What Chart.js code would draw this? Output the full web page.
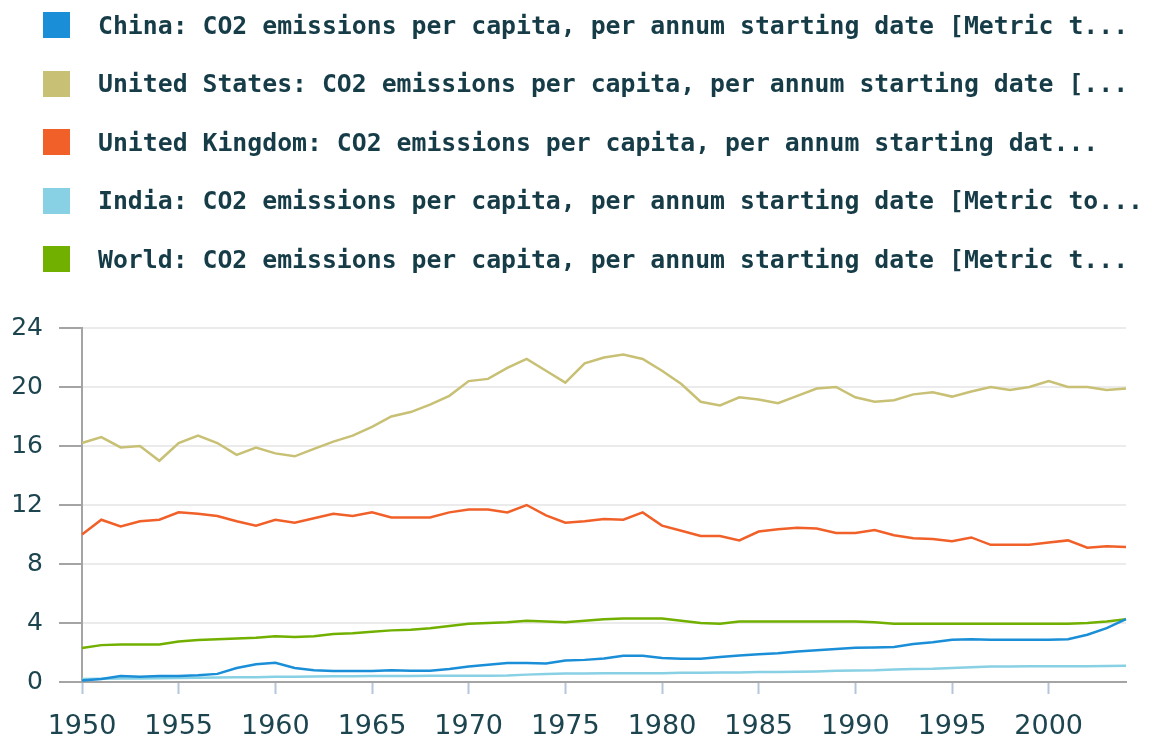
<!DOCTYPE html>
<html>
<head>
<meta charset="utf-8">
<script src="https://cdn.jsdelivr.net/npm/chart.js@4/dist/chart.umd.min.js"></script>
<style>
  html, body { margin: 0; padding: 0; background: #fff; }
  #wrap { position: relative; width: 1149px; height: 736px; overflow: hidden; }
  #chart { position: absolute; left: 0; top: 0; }
  #legend { position: absolute; left: 43px; top: 12px; display: flex; flex-direction: column; gap: 32.5px; }
  .row { display: flex; align-items: center; height: 26px; }
  .box { width: 27px; height: 26px; margin-right: 28px; flex: none; }
  .txt { font: bold 24.8px "DejaVu Sans Mono", monospace; color: #163c48; white-space: nowrap; }
</style>
</head>
<body>
<div id="wrap">
  <canvas id="chart" width="1149" height="736"></canvas>
  <div id="legend"></div>
</div>
<script>
const years = ['1950','1951','1952','1953','1954','1955','1956','1957','1958','1959',
  '1960','1961','1962','1963','1964','1965','1966','1967','1968','1969',
  '1970','1971','1972','1973','1974','1975','1976','1977','1978','1979',
  '1980','1981','1982','1983','1984','1985','1986','1987','1988','1989',
  '1990','1991','1992','1993','1994','1995','1996','1997','1998','1999',
  '2000','2001','2002','2003','2004'];

const seriesNames = [
  'China: CO2 emissions per capita, per annum starting date [Metric t...',
  'United States: CO2 emissions per capita, per annum starting date [...',
  'United Kingdom: CO2 emissions per capita, per annum starting dat...',
  'India: CO2 emissions per capita, per annum starting date [Metric to...',
  'World: CO2 emissions per capita, per annum starting date [Metric t...'
];
const seriesColors = ['#1a8fd8', '#c8c074', '#f06028', '#88d0e4', '#72b000'];

const china = [0.1, 0.2, 0.4, 0.35, 0.4, 0.4, 0.45, 0.55, 0.95, 1.2,
  1.3, 0.95, 0.8, 0.75, 0.75, 0.75, 0.8, 0.77, 0.77, 0.88,
  1.05, 1.17, 1.28, 1.28, 1.25, 1.45, 1.5, 1.6, 1.78, 1.78,
  1.62, 1.58, 1.58, 1.7, 1.8, 1.88, 1.95, 2.07, 2.16, 2.23,
  2.32, 2.34, 2.37, 2.57, 2.7, 2.86, 2.9, 2.86, 2.86, 2.86,
  2.86, 2.9, 3.2, 3.65, 4.26];

const unitedStates = [16.2, 16.6, 15.9, 16.0, 15.0, 16.2, 16.7, 16.2, 15.4, 15.9,
  15.5, 15.3, 15.8, 16.3, 16.7, 17.3, 18.0, 18.3, 18.8, 19.4,
  20.4, 20.55, 21.3, 21.9, 21.1, 20.3, 21.6, 22.0, 22.2, 21.9,
  21.1, 20.2, 19.0, 18.75, 19.3, 19.15, 18.9, 19.4, 19.9, 20.0,
  19.3, 19.0, 19.1, 19.5, 19.65, 19.35, 19.7, 20.0, 19.8, 20.0,
  20.4, 20.0, 20.0, 19.8, 19.9];

const unitedKingdom = [10.0, 11.0, 10.55, 10.9, 11.0, 11.5, 11.4, 11.25, 10.9, 10.6,
  11.0, 10.8, 11.1, 11.4, 11.25, 11.5, 11.15, 11.15, 11.15, 11.5,
  11.7, 11.7, 11.5, 12.0, 11.3, 10.8, 10.9, 11.05, 11.0, 11.5,
  10.6, 10.25, 9.9, 9.9, 9.6, 10.2, 10.35, 10.45, 10.4, 10.1,
  10.1, 10.3, 9.95, 9.75, 9.7, 9.55, 9.8, 9.3, 9.3, 9.3,
  9.45, 9.6, 9.1, 9.2, 9.15];

const india = [0.2, 0.22, 0.23, 0.24, 0.25, 0.27, 0.28, 0.3, 0.32, 0.33,
  0.35, 0.36, 0.37, 0.39, 0.39, 0.4, 0.4, 0.4, 0.42, 0.42,
  0.42, 0.43, 0.44, 0.5, 0.55, 0.58, 0.58, 0.6, 0.6, 0.6,
  0.6, 0.62, 0.63, 0.64, 0.65, 0.68, 0.68, 0.7, 0.72, 0.76,
  0.78, 0.8, 0.85, 0.88, 0.9, 0.95, 1.0, 1.05, 1.05, 1.06,
  1.06, 1.06, 1.07, 1.08, 1.1];

const world = [2.3, 2.5, 2.55, 2.55, 2.55, 2.75, 2.85, 2.9, 2.95, 3.0,
  3.1, 3.05, 3.1, 3.25, 3.3, 3.4, 3.5, 3.55, 3.65, 3.8,
  3.95, 4.0, 4.05, 4.15, 4.1, 4.05, 4.15, 4.25, 4.3, 4.3,
  4.3, 4.15, 4.0, 3.95, 4.1, 4.1, 4.1, 4.1, 4.1, 4.1,
  4.1, 4.05, 3.95, 3.95, 3.95, 3.95, 3.95, 3.95, 3.95, 3.95,
  3.95, 3.95, 4.0, 4.1, 4.25];

const seriesData = [china, unitedStates, unitedKingdom, india, world];

const tickColor = '#1d4550';

// legend as html rows
const legendEl = document.getElementById('legend');
seriesNames.forEach((name, i) => {
  const row = document.createElement('div');
  row.className = 'row';
  const box = document.createElement('span');
  box.className = 'box';
  box.style.background = seriesColors[i];
  const txt = document.createElement('span');
  txt.className = 'txt';
  txt.textContent = name;
  row.appendChild(box);
  row.appendChild(txt);
  legendEl.appendChild(row);
});

new Chart(document.getElementById('chart'), {
  type: 'line',
  data: {
    labels: years,
    datasets: seriesNames.map((name, i) => ({
      label: name,
      data: seriesData[i],
      borderColor: seriesColors[i],
      backgroundColor: seriesColors[i],
      borderWidth: 2.5,
      pointRadius: 0,
      tension: 0,
      fill: false
    }))
  },
  options: {
    responsive: false,
    animation: false,
    layout: { padding: { top: 328, right: 23, left: 0, bottom: 0 } },
    plugins: {
      legend: { display: false },
      tooltip: { enabled: false }
    },
    scales: {
      x: {
        grid: {
          drawOnChartArea: false,
          tickLength: 12,
          tickWidth: 2,
          tickColor: (ctx) => ctx.index % 5 === 0 ? '#b4c6da' : 'rgba(0,0,0,0)'
        },
        border: { color: '#a4a4a4', width: 2 },
        ticks: {
          autoSkip: false,
          maxRotation: 0,
          padding: 17,
          color: tickColor,
          font: { family: 'DejaVu Sans', size: 27 },
          callback: function (value, index) {
            return index % 5 === 0 ? this.getLabelForValue(value) : '';
          }
        },
        afterFit: (scale) => { scale.height = 54; }
      },
      y: {
        min: 0,
        max: 24,
        grid: {
          color: '#ebebeb',
          lineWidth: 2,
          tickLength: 23,
          tickColor: '#a4a4a4',
          tickWidth: 2
        },
        border: { color: '#a4a4a4', width: 2 },
        ticks: {
          stepSize: 4,
          padding: 16,
          color: tickColor,
          font: { family: 'DejaVu Sans', size: 25 }
        },
        afterFit: (scale) => { scale.width = 82; }
      }
    }
  }
});
</script>
</body>
</html>
